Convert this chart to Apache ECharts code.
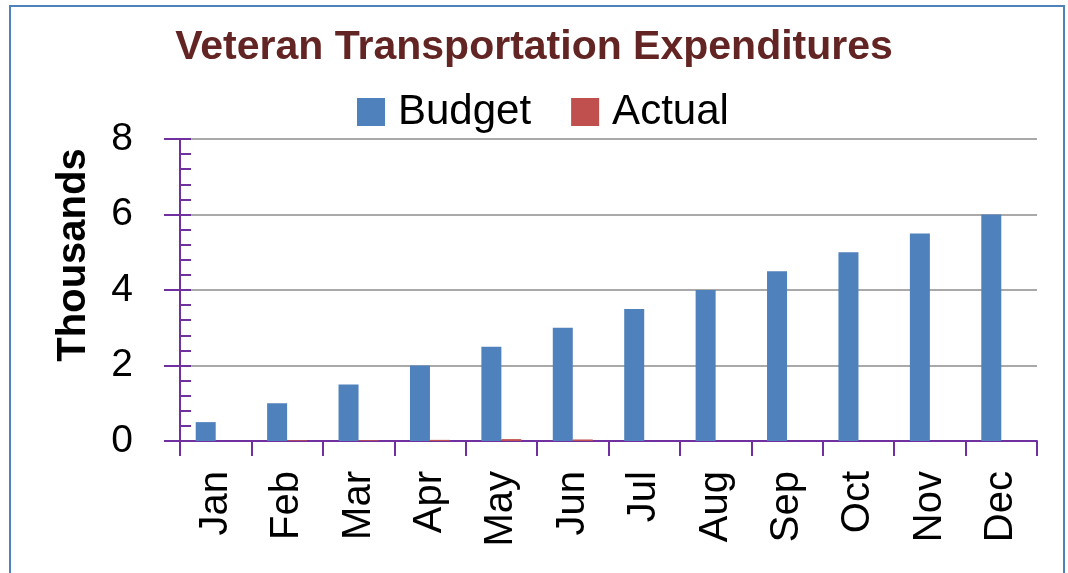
<!DOCTYPE html>
<html>
<head>
<meta charset="utf-8">
<script src="https://cdn.jsdelivr.net/npm/echarts@6/dist/echarts.min.js"></script>
<style>
  html, body { margin: 0; padding: 0; background: #fff; }
  #main { width: 1068px; height: 573px; }
</style>
</head>
<body>
<div id="main"></div>
<script>
// data (thousands)
var months = ["Jan", "Feb", "Mar", "Apr", "May", "Jun", "Jul", "Aug", "Sep", "Oct", "Nov", "Dec"]
var budget = [0.5, 1, 1.5, 2, 2.5, 3, 3.5, 4, 4.5, 5, 5.5, 6]
var actual = [0, 0.02, 0.02, 0.03, 0.05, 0.04, 0, 0, 0, 0, 0, 0]
var yTicks = [0, 2, 4, 6, 8]

var purple = '#7030A0'
var font = 'Liberation Sans, Arial, sans-serif'

var myChart = echarts.init(document.getElementById('main'))

var option = {
    animation: false,
    title: {
        text: 'Veteran Transportation Expenditures',
        left: 'center',
        top: 22,
        textStyle: { color: '#632523', fontSize: 41, fontWeight: 'bold', fontFamily: font }
    },
    legend: {
        top: 86,
        left: 352,
        icon: 'rect',
        itemWidth: 28,
        itemHeight: 28,
        itemGap: 40,
        textStyle: { fontSize: 42, color: '#000', fontFamily: font, padding: [0, 0, 0, 8] },
        data: ['Budget', 'Actual']
    },
    grid: { left: 180, right: 31, top: 139, bottom: 132 },
    xAxis: {
        type: 'category',
        data: months,
        axisLine: { lineStyle: { color: purple, width: 2 } },
        axisTick: { show: true, length: 15, lineStyle: { color: purple, width: 2 } },
        axisLabel: { rotate: 90, margin: 30, fontSize: 40, color: '#000', fontFamily: font }
    },
    yAxis: [
        {
            type: 'value',
            min: 0,
            max: yTicks[yTicks.length - 1],
            interval: 2,
            axisLine: { show: true, lineStyle: { color: purple, width: 2 } },
            axisTick: { show: true, inside: true, length: 11, lineStyle: { color: purple, width: 2 } },
            minorTick: { show: true, splitNumber: 5, length: 11, lineStyle: { color: purple, width: 2 } },
            splitLine: { show: true, lineStyle: { color: '#8c8c8c', width: 1.5 } },
            axisLabel: { fontSize: 39, color: '#000', margin: 47, fontFamily: font }
        },
        {
            // second axis only for the outer half of the major ticks
            type: 'value',
            position: 'left',
            min: 0,
            max: yTicks[yTicks.length - 1],
            interval: 2,
            axisLine: { show: false },
            axisTick: { show: true, inside: false, length: 16, lineStyle: { color: purple, width: 2 } },
            splitLine: { show: false },
            axisLabel: { show: false }
        }
    ],
    graphic: [
        {
            type: 'rect',
            shape: { x: 10, y: 6, width: 1054, height: 620 },
            style: { fill: 'none', stroke: '#4F81BD', lineWidth: 2 },
            silent: true
        },
        {
            type: 'text',
            x: 54,
            y: 255,
            rotation: Math.PI / 2,
            style: {
                text: 'Thousands',
                font: 'bold 40px ' + font,
                fill: '#000',
                textAlign: 'center',
                textVerticalAlign: 'top'
            }
        }
    ],
    series: [
        {
            name: 'Budget',
            type: 'bar',
            data: budget,
            barWidth: 20,
            barGap: '0%',
            itemStyle: { color: '#4F81BD' }
        },
        {
            name: 'Actual',
            type: 'bar',
            data: actual,
            barWidth: 20,
            itemStyle: { color: '#C0504D' }
        }
    ]
}

myChart.setOption(option)
</script>
</body>
</html>
